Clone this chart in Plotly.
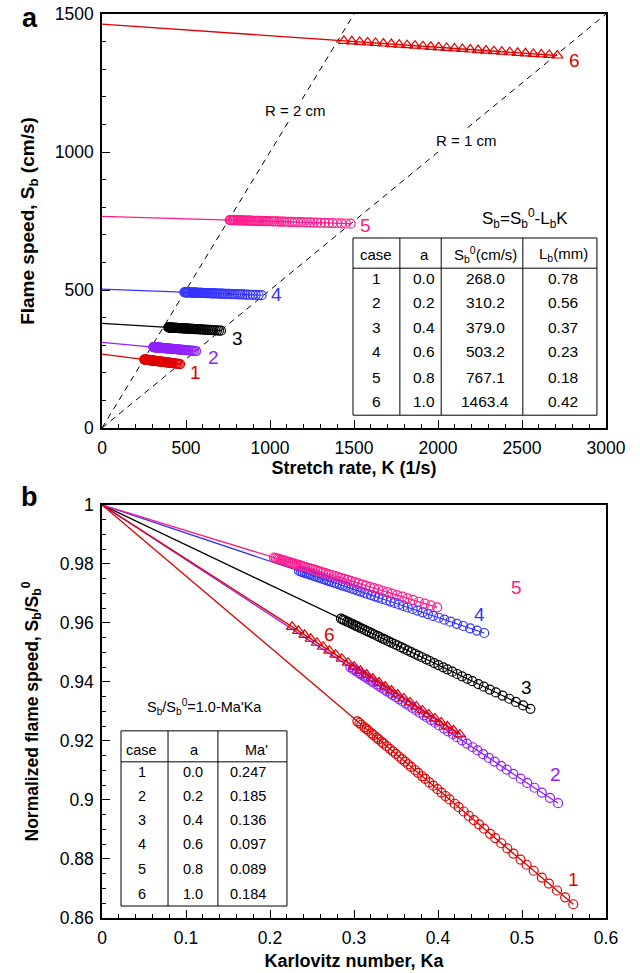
import plotly.graph_objects as go

# ---------------- data ----------------
cases = ["1", "2", "3", "4", "5", "6"]
a_vals = ["0.0", "0.2", "0.4", "0.6", "0.8", "1.0"]
sb0 = [268.0, 310.2, 379.0, 503.2, 767.1, 1463.4]        # cm/s
lb_mm = [0.78, 0.56, 0.37, 0.23, 0.18, 0.42]             # mm
ma_prime = [0.247, 0.185, 0.136, 0.097, 0.089, 0.184]
sb0_txt = ["268.0", "310.2", "379.0", "503.2", "767.1", "1463.4"]
lb_txt = ["0.78", "0.56", "0.37", "0.23", "0.18", "0.42"]
ma_txt = ["0.247", "0.185", "0.136", "0.097", "0.089", "0.184"]

k_case1 = [252, 254, 256, 259, 261, 263, 266, 268, 271, 273, 276, 278, 281, 284, 287, 290, 293,
           296, 299, 302, 305, 309, 312, 316, 319, 323, 327, 331, 335, 339, 343, 348, 352, 357,
           362, 367, 372, 377, 383, 388, 394, 400, 406, 413, 419, 426, 434, 441, 449, 457, 465]
k_case2 = [305, 308, 310, 313, 316, 318, 321, 324, 327, 330, 333, 337, 340, 343, 347, 350, 354,
           357, 361, 365, 369, 373, 377, 381, 386, 390, 395, 399, 404, 409, 414, 420, 425, 431,
           436, 442, 448, 455, 461, 468, 475, 482, 490, 497, 505, 514, 522, 531, 540, 550, 560]
k_case3 = [395, 398, 401, 405, 408, 412, 415, 419, 422, 426, 430, 434, 438, 442, 446, 450, 455,
           459, 464, 468, 473, 478, 483, 488, 494, 499, 505, 511, 517, 523, 529, 536, 542, 549,
           556, 564, 571, 579, 587, 595, 604, 612, 622, 631, 641, 651, 662, 673, 684, 696, 708]
k_case4 = [490, 495, 499, 504, 509, 514, 519, 525, 530, 536, 541, 547, 553, 559, 565, 571, 578,
           584, 591, 598, 605, 612, 620, 627, 635, 643, 652, 660, 669, 678, 687, 697, 707, 717,
           727, 738, 749, 760, 772, 784, 797, 810, 823, 837, 851, 866, 882, 898, 915, 932, 950]
k_case5 = [760, 767, 775, 782, 790, 798, 806, 814, 823, 831, 840, 849, 858, 868, 877, 887, 897,
           908, 918, 929, 940, 951, 963, 975, 987, 1000, 1013, 1026, 1040, 1054, 1069, 1084, 1099,
           1115, 1131, 1148, 1165, 1183, 1201, 1220, 1240, 1260, 1281, 1303, 1326, 1349, 1373,
           1399, 1425, 1452, 1480]
k_case6 = [1440, 1487, 1534, 1581, 1628, 1675, 1722, 1769, 1816, 1863, 1910, 1957, 2004, 2051,
           2098, 2145, 2192, 2239, 2286, 2333, 2380, 2427, 2474, 2521, 2568, 2615, 2662, 2710]
k_points = [k_case1, k_case2, k_case3, k_case4, k_case5, k_case6]

# Karlovitz number at the last point of each case
ka_end = [0.561, 0.543, 0.510, 0.455, 0.399, 0.426]

# constant-radius guide lines (Sb = K R / 2)
r2_k = [0, 1500]
r2_sb = [0, 1500]
r1_k = [0, 3000]
r1_sb = [0, 1500]

# ---------------- styles ----------------
colors = ["#E00000", "#9020FF", "#000000", "#3333FF", "#FF1A8C", "#E00000"]
symbols = ["circle-open"] * 5 + ["triangle-up-open"]
msizes = [9, 9, 9, 9, 9, 10]
FONT = "Liberation Sans, Arial, sans-serif"

# label positions for case numbers (data units)
top_lbl_k = [554, 661, 804, 1040, 1571, 2815]
top_lbl_sb = [203, 257, 326, 482, 735, 1331]
bot_lbl_ka = [0.561, 0.540, 0.505, 0.449, 0.494, 0.271]
bot_lbl_y = [0.873, 0.9085, 0.938, 0.963, 0.972, 0.956]

fig = go.Figure()

# guide lines
fig.add_trace(go.Scatter(x=r2_k, y=r2_sb, mode="lines", xaxis="x", yaxis="y",
                         line=dict(color="black", width=1, dash="6px,5px"), hoverinfo="skip"))
fig.add_trace(go.Scatter(x=r1_k, y=r1_sb, mode="lines", xaxis="x", yaxis="y",
                         line=dict(color="black", width=1, dash="6px,5px"), hoverinfo="skip"))

for i in range(6):
    ks = k_points[i]
    lb_cm = lb_mm[i] / 10.0
    sb = [sb0[i] - lb_cm * k for k in ks]
    kmax = ks[-1]
    # panel a fit line
    fig.add_trace(go.Scatter(x=[0, kmax], y=[sb0[i], sb0[i] - lb_cm * kmax], mode="lines",
                             xaxis="x", yaxis="y", line=dict(color=colors[i], width=1.3)))
    fig.add_trace(go.Scatter(x=ks, y=sb, mode="markers", xaxis="x", yaxis="y",
                             marker=dict(symbol=symbols[i], size=msizes[i], color=colors[i],
                                         line=dict(width=1.2, color=colors[i]))))
    # panel b
    scale = ka_end[i] / kmax
    ka = [k * scale for k in ks]
    nrm = [s / sb0[i] for s in sb]
    fig.add_trace(go.Scatter(x=[0, ka[-1]], y=[1.0, nrm[-1]], mode="lines",
                             xaxis="x2", yaxis="y2", line=dict(color=colors[i], width=1.3)))
    fig.add_trace(go.Scatter(x=ka, y=nrm, mode="markers", xaxis="x2", yaxis="y2",
                             marker=dict(symbol=symbols[i], size=msizes[i], color=colors[i],
                                         line=dict(width=1.2, color=colors[i]))))

CM = dict(xanchor="center", yanchor="middle", showarrow=False)
annotations = []
for i in range(6):
    annotations.append(dict(x=top_lbl_k[i], y=top_lbl_sb[i], xref="x", yref="y", text=cases[i],
                            font=dict(family=FONT, size=19, color=colors[i]), **CM))
    annotations.append(dict(x=bot_lbl_ka[i], y=bot_lbl_y[i], xref="x2", yref="y2", text=cases[i],
                            font=dict(family=FONT, size=19, color=colors[i]), **CM))

annotations.append(dict(x=1149, y=1149, xref="x", yref="y", text="R = 2 cm",
                        bgcolor="white", font=dict(family=FONT, size=15, color="black"), **CM))
annotations.append(dict(x=2167, y=1043, xref="x", yref="y", text="R = 1 cm",
                        bgcolor="white", font=dict(family=FONT, size=15, color="black"), **CM))

# panel letters
annotations.append(dict(x=-0.143, y=0.990, xref="x domain", yref="y domain", text="<b>a</b>",
                        font=dict(family=FONT, size=27, color="black"), **CM))
annotations.append(dict(x=-0.143, y=1.018, xref="x2 domain", yref="y2 domain", text="<b>b</b>",
                        font=dict(family=FONT, size=27, color="black"), **CM))

shapes = []
# ---- table panel a ----
tA = dict(xref="x domain", yref="y domain")
tx0, tx1, ty0, ty1 = 0.498, 0.982, 0.031, 0.459
shapes.append(dict(type="rect", x0=tx0, x1=tx1, y0=ty0, y1=ty1, line=dict(color="black", width=1),
                   fillcolor="white", layer="above", **tA))
shapes.append(dict(type="line", x0=tx0, x1=tx1, y0=0.386, y1=0.386, line=dict(color="black", width=1), **tA))
for cx in [0.591, 0.673, 0.835]:
    shapes.append(dict(type="line", x0=cx, x1=cx, y0=ty0, y1=ty1, line=dict(color="black", width=1), **tA))
colA = [0.544, 0.639, 0.760, 0.915]
headA = ["case", "a", "S<sub>b</sub><sup>0</sup>(cm/s)", "L<sub>b</sub>(mm)"]
rowA = [0.362, 0.302, 0.242, 0.184, 0.123, 0.065]
for j, h in enumerate(headA):
    annotations.append(dict(x=colA[j], y=0.420, text=h,
                            font=dict(family=FONT, size=15, color="black"), **CM, **tA))
for r in range(6):
    vals = [cases[r], a_vals[r], sb0_txt[r], lb_txt[r]]
    for j, v in enumerate(vals):
        annotations.append(dict(x=colA[j], y=rowA[r], text=v,
                                font=dict(family=FONT, size=15.5, color="black"), **CM, **tA))
annotations.append(dict(x=0.839, y=0.507, text="S<sub>b</sub>=S<sub>b</sub><sup>0</sup>-L<sub>b</sub>K",
                        font=dict(family=FONT, size=17, color="black"), **CM, **tA))

# ---- table panel b ----
tB = dict(xref="x2 domain", yref="y2 domain")
bx0, bx1, by0, by1 = 0.0377, 0.367, 0.029, 0.453
shapes.append(dict(type="rect", x0=bx0, x1=bx1, y0=by0, y1=by1, line=dict(color="black", width=1),
                   fillcolor="white", layer="above", **tB))
shapes.append(dict(type="line", x0=bx0, x1=bx1, y0=0.378, y1=0.378, line=dict(color="black", width=1), **tB))
for cx in [0.131, 0.230]:
    shapes.append(dict(type="line", x0=cx, x1=cx, y0=by0, y1=by1, line=dict(color="black", width=1), **tB))
colB = [0.079, 0.181, 0.290]
headB = ["case", "a", "Ma'"]
headBx = [0.079, 0.183, 0.307]
rowB = [0.353, 0.295, 0.237, 0.179, 0.119, 0.058]
for j, h in enumerate(headB):
    annotations.append(dict(x=headBx[j], y=0.407, text=h,
                            font=dict(family=FONT, size=14.5, color="black"), **CM, **tB))
for r in range(6):
    vals = [cases[r], a_vals[r], ma_txt[r]]
    for j, v in enumerate(vals):
        annotations.append(dict(x=colB[j], y=rowB[r], text=v,
                                font=dict(family=FONT, size=14.5, color="black"), **CM, **tB))
annotations.append(dict(x=0.204, y=0.511, text="S<sub>b</sub>/S<sub>b</sub><sup>0</sup>=1.0-Ma'Ka",
                        font=dict(family=FONT, size=14.5, color="black"), **CM, **tB))

axis_common = dict(showline=True, mirror=True, linecolor="black", linewidth=1.5, ticks="inside",
                   ticklen=8, tickwidth=1.3, tickcolor="black", showgrid=False, zeroline=False,
                   automargin=False, ticklabelstandoff=3,
                   tickfont=dict(family=FONT, size=17.5, color="black"))

fig.update_layout(
    width=640, height=973, showlegend=False,
    paper_bgcolor="white", plot_bgcolor="white",
    margin=dict(l=102, r=34, t=14, b=55),
    font=dict(family=FONT, color="black"),
    xaxis=dict(domain=[0, 1], anchor="y", range=[0, 3000], dtick=500, tick0=0,
               minor=dict(dtick=100, ticks="inside", ticklen=4, tickcolor="black", tickwidth=1.2),
               title=dict(text="<b>Stretch rate, K (1/s)</b>", standoff=5,
                          font=dict(family=FONT, size=18, color="black")), **axis_common),
    yaxis=dict(domain=[0.542, 1], anchor="x", range=[0, 1500], dtick=500, tick0=0,
               minor=dict(dtick=100, ticks="inside", ticklen=4, tickcolor="black", tickwidth=1.2),
               title=dict(text="<b>Flame speed, S<sub>b</sub> (cm/s)</b>", standoff=15,
                          font=dict(family=FONT, size=19, color="black")), **axis_common),
    xaxis2=dict(domain=[0, 1], anchor="y2", range=[0, 0.6], dtick=0.1, tick0=0,
                minor=dict(dtick=0.02, ticks="inside", ticklen=4, tickcolor="black", tickwidth=1.2),
                title=dict(text="<b>Karlovitz number, Ka</b>", standoff=8,
                           font=dict(family=FONT, size=18, color="black")), **axis_common),
    yaxis2=dict(domain=[0, 0.457], anchor="x2", range=[0.86, 1.0], dtick=0.02, tick0=0.86,
                minor=dict(dtick=0.005, ticks="inside", ticklen=4, tickcolor="black", tickwidth=1.2),
                title=dict(text="<b>Normalized flame speed, S<sub>b</sub>/S<sub>b</sub><sup>0</sup></b>",
                           standoff=17, font=dict(family=FONT, size=17.5, color="black")), **axis_common),
    annotations=annotations,
    shapes=shapes,
)

fig.write_html("out.html")
